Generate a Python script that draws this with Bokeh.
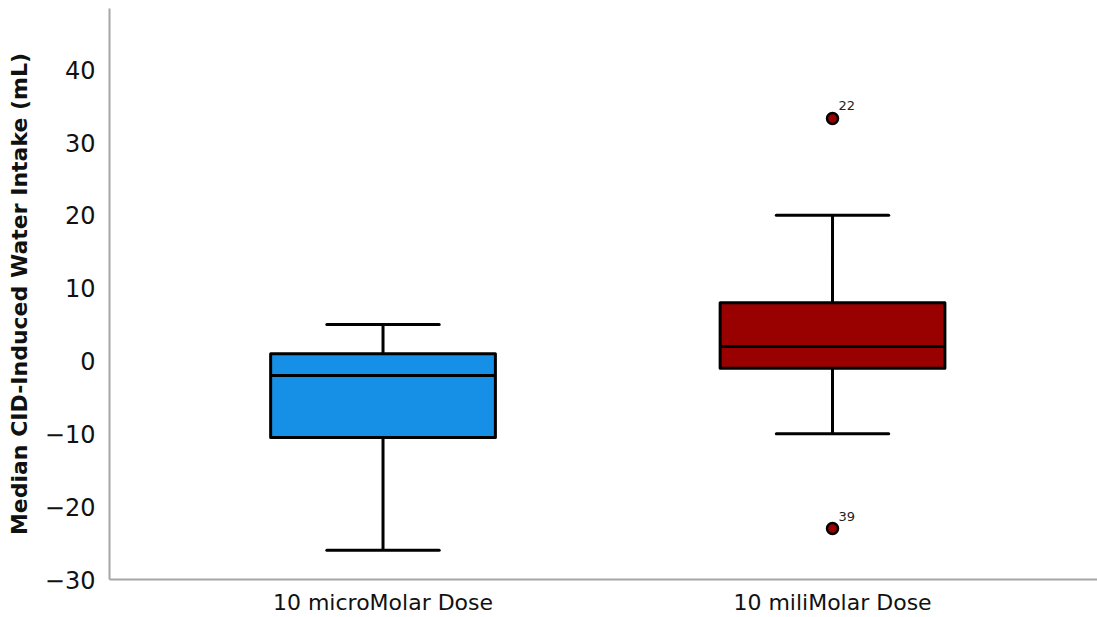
from bokeh.plotting import figure
from bokeh.models import ColumnDataSource, Range1d, FixedTicker
from bokeh.core.properties import value
from bokeh.embed import file_html
from bokeh.resources import INLINE

groups = ["10 microMolar Dose", "10 miliMolar Dose"]
q1 = [-10.5, -1]
median = [-2, 2]
q3 = [1, 8]
lower = [-26, -10]
upper = [5, 20]
colors = ["#1590e6", "#990000"]
outlier_group = [2, 2]
outlier_value = [33.3, -23]
outlier_id = ["22", "39"]
y_ticks = [-30, -20, -10, 0, 10, 20, 30, 40]

xs = [i + 1 for i in range(len(groups))]
bw = 0.5
cw = 0.25

p = figure(width=1097, height=617, output_backend="svg", toolbar_location=None,
           x_range=Range1d(0.3915, 2.5895), y_range=Range1d(-30, 48.4),
           min_border_left=109, min_border_right=0, min_border_top=8, min_border_bottom=38)
p.outline_line_color = None
p.grid.visible = False
p.background_fill_color = "white"
p.border_fill_color = "white"

src = ColumnDataSource(dict(
    x=xs, q1=q1, q3=q3, med=median, lo=lower, hi=upper, color=colors,
    xl=[x - bw / 2 for x in xs], xr=[x + bw / 2 for x in xs],
    cl=[x - cw / 2 for x in xs], cr=[x + cw / 2 for x in xs],
))

lw = 3
# whiskers
p.segment(x0="x", y0="q3", x1="x", y1="hi", source=src, line_color="black", line_width=lw)
p.segment(x0="x", y0="q1", x1="x", y1="lo", source=src, line_color="black", line_width=lw)
p.segment(x0="cl", y0="hi", x1="cr", y1="hi", source=src, line_color="black", line_width=lw, line_cap="round")
p.segment(x0="cl", y0="lo", x1="cr", y1="lo", source=src, line_color="black", line_width=lw, line_cap="round")
# boxes
p.vbar(x="x", width=bw, top="q3", bottom="q1", source=src, fill_color="color",
       line_color="black", line_width=lw, line_join="round")
p.segment(x0="xl", y0="med", x1="xr", y1="med", source=src, line_color="black", line_width=lw)

osrc = ColumnDataSource(dict(x=outlier_group, y=outlier_value, t=outlier_id))
p.scatter(x="x", y="y", source=osrc, size=11, fill_color="#990000", line_color="black", line_width=2.5)
p.text(x="x", y="y", text="t", source=osrc, x_offset=6, y_offset=-8,
       text_font=value("DejaVu Sans"), text_font_size="13px", text_color="#222222",
       text_baseline="bottom", text_align="left")

# axes
xa = p.xaxis[0]
xa.ticker = FixedTicker(ticks=xs)
xa.major_label_overrides = {x: g for x, g in zip(xs, groups)}
ya = p.yaxis[0]
ya.ticker = FixedTicker(ticks=y_ticks)
ya.major_label_overrides = {t: str(t).replace("-", "\u2212") for t in y_ticks}
for ax in (xa, ya):
    ax.major_tick_line_color = None
    ax.minor_tick_line_color = None
    ax.axis_line_color = "#a6a6a6"
    ax.axis_line_width = 2
    ax.major_label_text_font = "DejaVu Sans"
    ax.major_label_text_color = "#111111"
xa.major_label_text_font_size = "22px"
xa.major_label_standoff = 4
ya.major_label_text_font_size = "24px"
ya.major_label_standoff = 8
ya.axis_label = "Median CID-Induced Water Intake (mL)"
ya.axis_label_text_font = "DejaVu Sans"
ya.axis_label_text_font_style = "bold"
ya.axis_label_text_font_size = "22px"
ya.axis_label_text_color = "#111111"
ya.axis_label_standoff = 10

open("out.html", "w").write(file_html(p, INLINE))
